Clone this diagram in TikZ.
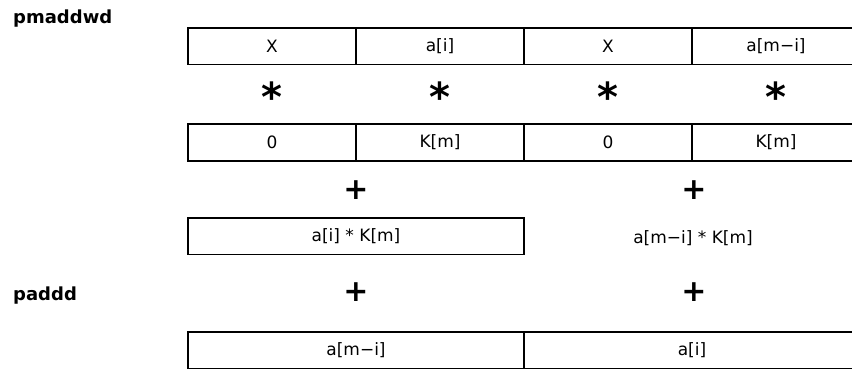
\documentclass[tikz,border=0pt]{standalone}
\usepackage{fontspec}
\setmainfont{DejaVu Sans}
\usepackage{tikz}

\tikzset{
  cell/.style={draw,line width=1.6pt,minimum width=168pt,minimum height=36.6pt,inner sep=0pt,
    font=\fontsize{17}{19}\selectfont},
  opsign/.style={inner sep=0pt,font=\bfseries\fontsize{30}{32}\selectfont},
  instr/.style={anchor=west,inner sep=0pt,font=\bfseries\fontsize{18}{20}\selectfont}
}

\begin{document}
\begin{tikzpicture}[x=1pt,y=-1pt]
\clip (0,0) rectangle (852,368);
% pmaddwd
\node[instr] (pmaddwd) at (13,19) {pmaddwd};
\node[cell] (x1) at (272,46) {X};
\node[cell] (ai) at (440,46) {a[i]};
\node[cell] (x2) at (608,46) {X};
\node[cell] (ami) at (776,46) {a[m−i]};
\foreach \cx/\nm in {272/s1,440/s2,608/s3,776/s4}
  \node[opsign,font=\bfseries\fontsize{40}{42}\selectfont] (\nm) at (\cx,97) {*};
\node[cell] (z1) at (272,142.5) {0};
\node[cell] (k1) at (440,142.5) {K[m]};
\node[cell] (z2) at (608,142.5) {0};
\node[cell] (k2) at (776,142.5) {K[m]};
\node[opsign] (p1) at (356,190) {+};
\node[opsign] (p2) at (694,190) {+};
\node[cell,minimum width=336pt] (prodlo) at (356,236) {a[i] * K[m]};
\node[font=\fontsize{17}{19}\selectfont] (prodhi) at (693,238) {a[m−i] * K[m]};
% paddd
\node[instr] (paddd) at (13,296) {paddd};
\node[opsign] (p3) at (356,292) {+};
\node[opsign] (p4) at (694,292) {+};
\node[cell,minimum width=336pt] (sumlo) at (356,350) {a[m−i]};
\node[cell,minimum width=336pt] (sumhi) at (692,350) {a[i]};
\end{tikzpicture}
\end{document}
